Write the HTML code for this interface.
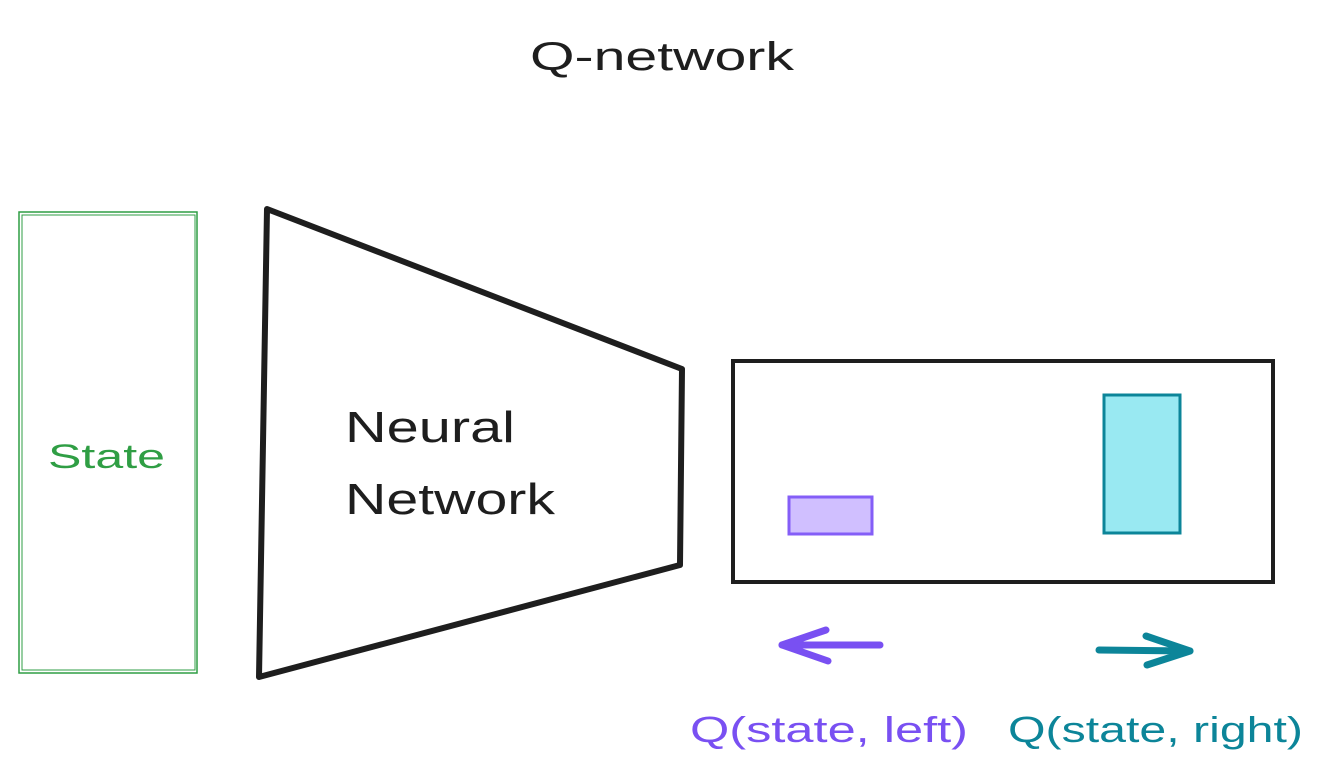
<!DOCTYPE html>
<html><head><meta charset="utf-8"><style>html,body{margin:0;padding:0;background:#fff}svg{display:block}</style></head>
<body>
<svg width="1322" height="778" viewBox="0 0 1322 778" xmlns="http://www.w3.org/2000/svg" font-family="'Liberation Sans', sans-serif">
<rect width="1322" height="778" fill="#fff"/>
<text x="530" y="70" font-size="40" fill="#1e1e1e" textLength="264" lengthAdjust="spacingAndGlyphs">Q-network</text>
<rect x="19" y="212" width="178" height="461" fill="none" stroke="#2f9e44" stroke-width="1.5"/>
<rect x="22" y="215" width="173" height="455" fill="none" stroke="#2f9e44" stroke-width="1"/>
<text x="48" y="468" font-size="34" fill="#2f9e44" textLength="117" lengthAdjust="spacingAndGlyphs">State</text>
<polygon points="267,209 682,369 680,565 259,677" fill="none" stroke="#1e1e1e" stroke-width="6" stroke-linejoin="round"/>
<text x="345" y="442" font-size="44" fill="#1e1e1e" textLength="170" lengthAdjust="spacingAndGlyphs">Neural</text>
<text x="345" y="514" font-size="44" fill="#1e1e1e" textLength="210" lengthAdjust="spacingAndGlyphs">Network</text>
<rect x="733" y="361" width="540" height="221" fill="none" stroke="#1e1e1e" stroke-width="4"/>
<rect x="789" y="497" width="83" height="37" fill="#d0bfff" stroke="#845ef7" stroke-width="3"/>
<rect x="1104" y="395" width="76" height="138" fill="#99e9f2" stroke="#0c8599" stroke-width="3"/>
<g stroke="#7950f2" stroke-width="7" stroke-linecap="round" stroke-linejoin="round" fill="none">
<line x1="880" y1="645" x2="782" y2="645"/><polyline points="826,630 782,645 828,661"/></g>
<g stroke="#0c8599" stroke-width="7" stroke-linecap="round" stroke-linejoin="round" fill="none">
<line x1="1099" y1="650" x2="1190" y2="651"/><polyline points="1146,636 1190,651 1147,665"/></g>
<text x="690" y="742" font-size="36" fill="#7950f2" textLength="278" lengthAdjust="spacingAndGlyphs">Q(state, left)</text>
<text x="1008" y="742" font-size="36" fill="#0c8599" textLength="295" lengthAdjust="spacingAndGlyphs">Q(state, right)</text>
</svg>
</body></html>
